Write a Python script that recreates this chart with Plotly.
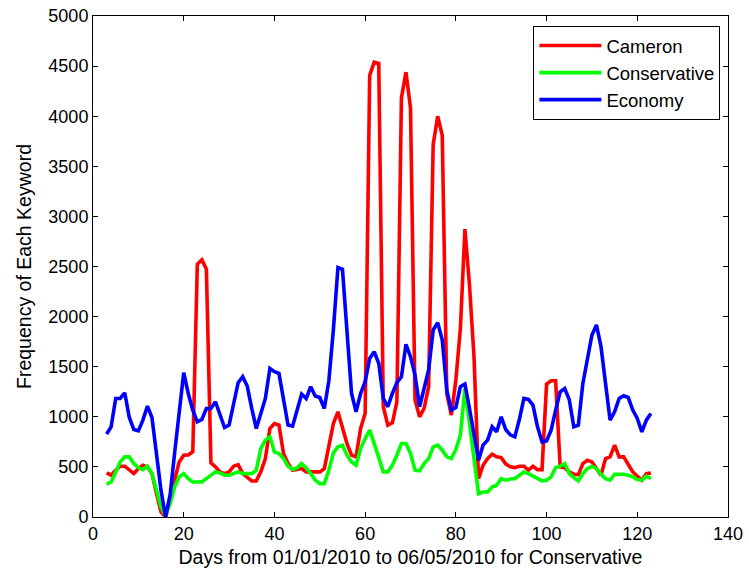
import plotly.graph_objects as go

days = list(range(3, 124))

cameron = [440, 417, 467, 507, 507, 473, 433, 483, 517, 500,
           433, 233, 50, 0, 170, 370, 550, 617, 620, 650,
           2523, 2567, 2473, 540, 500, 450, 433, 450, 507, 523,
           433, 393, 360, 360, 450, 583, 883, 933, 917, 633,
           533, 467, 473, 483, 450, 450, 450, 450, 483, 733,
           933, 1050, 900, 733, 617, 600, 883, 1033, 4407, 4540,
           4527, 1100, 917, 940, 1150, 4183, 4440, 4083, 1167, 1000,
           1083, 1300, 3717, 4000, 3807, 1233, 1017, 1367, 1883, 2873,
           2317, 1600, 383, 517, 583, 627, 600, 593, 530, 500,
           493, 507, 507, 467, 507, 473, 473, 1327, 1360, 1360,
           500, 493, 450, 427, 423, 533, 567, 550, 483, 417,
           583, 600, 717, 600, 600, 517, 450, 407, 367, 433,
           440]

conservative = [327, 350, 450, 550, 600, 600, 533, 493, 473, 507,
                433, 267, 100, 10, 133, 300, 400, 433, 383, 350,
                350, 350, 383, 417, 450, 440, 417, 417, 433, 450,
                433, 433, 433, 467, 683, 767, 800, 650, 633, 583,
                507, 475, 490, 533, 490, 433, 367, 333, 333, 467,
                640, 700, 717, 617, 550, 517, 683, 783, 867, 733,
                583, 450, 450, 517, 617, 733, 733, 633, 467, 460,
                533, 583, 700, 717, 667, 600, 583, 673, 817, 1283,
                933, 583, 233, 250, 250, 300, 317, 383, 367, 380,
                383, 417, 450, 433, 407, 383, 360, 367, 400, 493,
                507, 533, 433, 393, 360, 433, 483, 507, 483, 427,
                383, 367, 427, 427, 427, 417, 400, 373, 367, 407,
                383]

economy = [827, 900, 1183, 1183, 1240, 993, 873, 860, 967, 1107,
           993, 610, 263, 0, 220, 640, 1060, 1440, 1233, 1067,
           950, 973, 1083, 1083, 1150, 1017, 893, 917, 1133, 1340,
           1400, 1307, 1083, 883, 1033, 1183, 1483, 1450, 1433, 1183,
           917, 907, 1083, 1227, 1183, 1300, 1207, 1193, 1083, 1360,
           1870, 2490, 2473, 1900, 1233, 1050, 1233, 1350, 1583, 1650,
           1533, 1183, 1100, 1233, 1340, 1400, 1723, 1600, 1417, 1100,
           1283, 1467, 1867, 1940, 1767, 1267, 1067, 1093, 1300, 1327,
           1083, 833, 567, 717, 767, 900, 850, 1000, 873, 820,
           800, 973, 1183, 1173, 1117, 900, 750, 760, 867, 1067,
           1250, 1283, 1173, 900, 917, 1333, 1600, 1817, 1917, 1700,
           1333, 967, 1050, 1183, 1210, 1193, 1067, 983, 850, 967,
           1033]

series_names = ["Cameron", "Conservative", "Economy"]
series_colors = ["#FF0000", "#00FF00", "#0000FF"]
series_values = [cameron, conservative, economy]

FONT = "Liberation Sans, Arial, Helvetica, sans-serif"

fig = go.Figure()
for name, color, vals in zip(series_names, series_colors, series_values):
    fig.add_trace(go.Scatter(x=days, y=vals, mode="lines", name=name,
                             line=dict(color=color, width=3.6)))

axis_common = dict(showline=True, linecolor="black", linewidth=1,
                   mirror="ticks", ticks="inside", ticklen=5,
                   tickcolor="black", showgrid=False, zeroline=False,
                   ticklabeloverflow="allow",
                   tickfont=dict(family=FONT, size=18, color="black"))

fig.update_xaxes(range=[0, 140], dtick=20, tick0=0,
                 title=dict(text="Days from 01/01/2010 to 06/05/2010 for Conservative",
                            font=dict(family=FONT, size=19.5, color="black"),
                            standoff=7),
                 **axis_common)
fig.update_yaxes(range=[0, 5000], dtick=500, tick0=0,
                 title=dict(text="Frequency of Each Keyword",
                            font=dict(family=FONT, size=19.5, color="black"),
                            standoff=11),
                 **axis_common)

fig.update_layout(
    width=749, height=571,
    margin=dict(l=93, r=21, t=16, b=54, autoexpand=False),
    plot_bgcolor="white", paper_bgcolor="white",
    font=dict(family=FONT, size=18, color="black"),
    legend=dict(x=0.988, y=0.98, xanchor="right", yanchor="top",
                bordercolor="black", borderwidth=1, bgcolor="white",
                font=dict(family=FONT, size=18.5, color="black"),
                itemwidth=62, tracegroupgap=0),
)

# remove the browser's default 8px body margin so the figure sits at (0, 0)
fig.write_html("out.html",
               config={"displayModeBar": False, "staticPlot": True},
               post_script="document.body.style.margin='0';"
                           "document.body.style.overflow='hidden';")
